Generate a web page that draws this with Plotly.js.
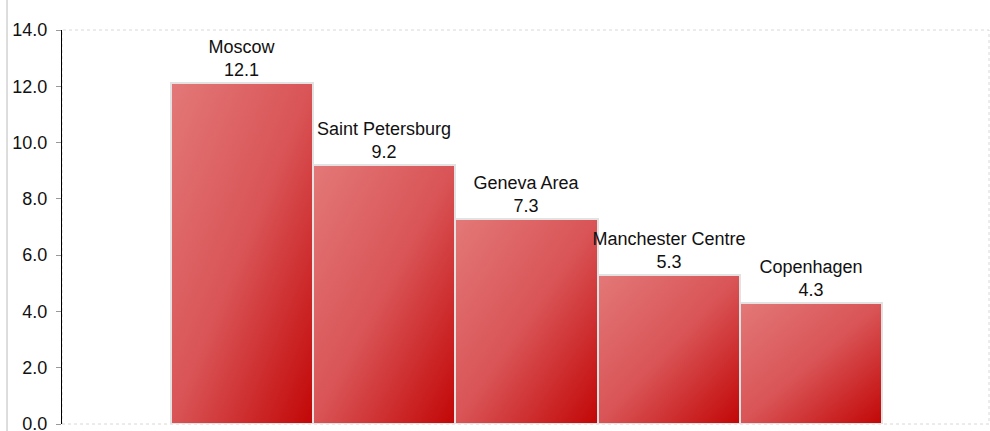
<!DOCTYPE html>
<html>
<head>
<meta charset="utf-8">
<script src="https://cdn.plot.ly/plotly-3.0.1.min.js"></script>
<style>
  html, body { margin: 0; padding: 0; background: #fff; }
  #myDiv { width: 990px; height: 431px; }
</style>
</head>
<body>
<div id="myDiv"></div>
<script>
// data
var cities = ['Moscow', 'Saint Petersburg', 'Geneva Area', 'Manchester Centre', 'Copenhagen'];
var values = [12.1, 9.2, 7.3, 5.3, 4.3];
var yTicks = [0, 2, 4, 6, 8, 10, 12, 14];

var labels = cities.map(function (c, i) {
  return c + '<br>' + values[i].toFixed(1);
});

var trace1 = {
  x: cities,
  y: values,
  type: 'bar',
  text: labels,
  textposition: 'outside',
  constraintext: 'none',
  cliponaxis: false,
  textfont: {family: 'Liberation Sans, Arial, sans-serif', size: 18, color: '#111'},
  marker: {
    color: '#d84b4e',
    line: {color: '#e2e2e2', width: 2}
  },
  hoverinfo: 'none'
};

var layout = {
  width: 990,
  height: 431,
  margin: {l: 62, r: 1, t: 30, b: 7},
  paper_bgcolor: '#fff',
  plot_bgcolor: '#fff',
  showlegend: false,
  bargap: 0,
  font: {family: 'Liberation Sans, Arial, sans-serif', size: 18, color: '#111'},
  xaxis: {
    type: 'category',
    range: [-1.265, 5.25],
    showticklabels: false,
    showgrid: false,
    zeroline: false,
    showline: false,
    ticks: ''
  },
  yaxis: {
    range: [0, 14],
    tickvals: yTicks,
    tickformat: '.1f',
    showgrid: false,
    zeroline: false,
    showline: true,
    linecolor: '#000',
    linewidth: 1,
    ticks: 'outside',
    ticklen: 5,
    tickcolor: '#999',
    ticklabelstandoff: 5,
    ticklabeloverflow: 'allow',
    tickfont: {size: 18, color: '#111'}
  },
  shapes: [
    // dotted frame of the plot area
    {type: 'rect', xref: 'paper', yref: 'paper', x0: 0, x1: 1, y0: 0, y1: 1,
     line: {color: '#d8d8d8', width: 1, dash: 'dot'}, layer: 'below'},
    // thin grey rule at the far left
    {type: 'line', xref: 'paper', yref: 'paper', x0: -0.0593, x1: -0.0593, y0: -0.02, y1: 1.08,
     line: {color: '#bbb', width: 1}}
  ]
};

var plotDiv = document.getElementById('myDiv');

Plotly.newPlot(plotDiv, [trace1], layout, {displayModeBar: false}).then(function () {
  // diagonal light-to-dark red fill on each bar
  var svg = plotDiv.querySelector('.main-svg');
  var ns = 'http://www.w3.org/2000/svg';
  var defs = svg.querySelector('defs');
  var grad = document.createElementNS(ns, 'linearGradient');
  grad.setAttribute('id', 'barGrad');
  grad.setAttribute('x1', '0');
  grad.setAttribute('y1', '0');
  grad.setAttribute('x2', '1');
  grad.setAttribute('y2', '1');
  [['0', '#e37878'], ['0.5', '#d95456'], ['1', '#c20606']].forEach(function (s) {
    var stop = document.createElementNS(ns, 'stop');
    stop.setAttribute('offset', s[0]);
    stop.setAttribute('stop-color', s[1]);
    grad.appendChild(stop);
  });
  defs.appendChild(grad);
  plotDiv.querySelectorAll('.trace.bars .point path').forEach(function (p) {
    p.style.fill = 'url(#barGrad)';
  });
});
</script>
</body>
</html>
